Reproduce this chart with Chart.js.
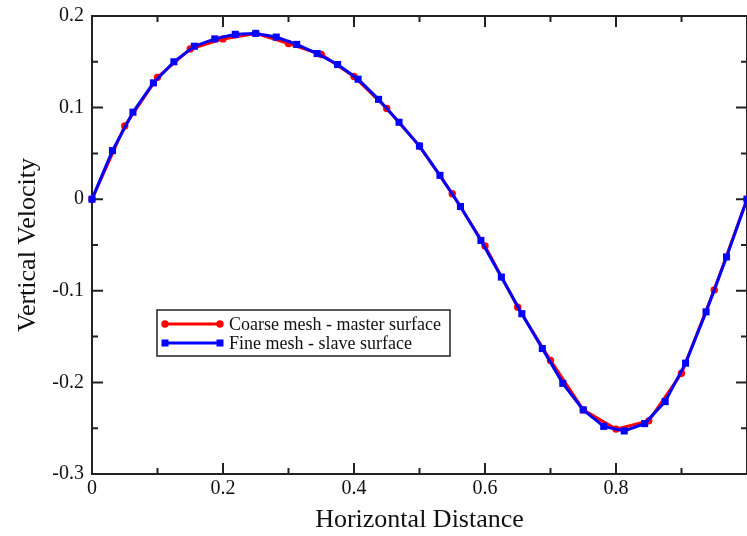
<!DOCTYPE html>
<html>
<head>
<meta charset="utf-8">
<title>Vertical Velocity</title>
<script src="https://cdn.jsdelivr.net/npm/chart.js@4.4.1/dist/chart.umd.min.js"></script>
<style>
  html, body { margin: 0; padding: 0; background: #fff; }
  #wrap { width: 747px; height: 536px; }
</style>
</head>
<body>
<div id="wrap"><canvas id="velocityChart"></canvas></div>
<script>
// ---- Data ----
const coarseX = [0, 0.05, 0.1, 0.15, 0.2, 0.25, 0.3, 0.35, 0.4, 0.45, 0.5,
  0.55, 0.6, 0.65, 0.7, 0.75, 0.8, 0.85, 0.9, 0.95, 1];
const coarseV = [0, 0.080, 0.133, 0.164, 0.175, 0.181, 0.170, 0.158, 0.134, 0.099, 0.058,
  0.006, -0.051, -0.118, -0.176, -0.230, -0.251, -0.242, -0.190, -0.099, 0];

const fineX = [0, 0.03125, 0.0625, 0.09375, 0.125, 0.15625, 0.1875, 0.21875, 0.25,
  0.28125, 0.3125, 0.34375, 0.375, 0.40625, 0.4375, 0.46875, 0.5,
  0.53125, 0.5625, 0.59375, 0.625, 0.65625, 0.6875, 0.71875, 0.75,
  0.78125, 0.8125, 0.84375, 0.875, 0.90625, 0.9375, 0.96875, 1];
const fineV = [0, 0.053, 0.095, 0.127, 0.150, 0.167, 0.175, 0.180, 0.181,
  0.177, 0.169, 0.159, 0.147, 0.131, 0.109, 0.084, 0.058,
  0.026, -0.008, -0.045, -0.085, -0.125, -0.163, -0.201, -0.230,
  -0.248, -0.253, -0.245, -0.221, -0.179, -0.123, -0.063, 0];

const xTickLabels = [0, 0.2, 0.4, 0.6, 0.8];
const yTickLabels = [-0.3, -0.2, -0.1, 0, 0.1, 0.2];

const seriesNames = ['Coarse mesh - master surface', 'Fine mesh - slave surface'];

const SERIF = '"Liberation Serif", "Times New Roman", serif';
const FRAME = '#222';

function toPoints(xs, ys) {
  return xs.map((x, i) => ({ x: x, y: ys[i] }));
}

// frame box with inward ticks on all four sides (like xmgrace)
const frameTicks = {
  id: 'frameTicks',
  beforeDatasetsDraw(chart) {
    const { ctx, chartArea: a, scales: { x, y } } = chart;
    ctx.save();
    ctx.strokeStyle = FRAME;
    ctx.lineWidth = 2;
    ctx.strokeRect(a.left, a.top, a.right - a.left, a.bottom - a.top);
    ctx.beginPath();
    for (let i = 0; i <= 10; i++) {
      const px = x.getPixelForValue(i / 10);
      const len = i % 2 === 0 ? 11 : 6;
      ctx.moveTo(px, a.bottom); ctx.lineTo(px, a.bottom - len);
      ctx.moveTo(px, a.top); ctx.lineTo(px, a.top + len);
    }
    for (let i = 0; i <= 10; i++) {
      const py = y.getPixelForValue(-0.3 + i * 0.05);
      const len = i % 2 === 0 ? 11 : 6;
      ctx.moveTo(a.left, py); ctx.lineTo(a.left + len, py);
      ctx.moveTo(a.right, py); ctx.lineTo(a.right - len, py);
    }
    ctx.stroke();
    ctx.restore();
  }
};

// boxed legend with line + end markers
const boxLegend = {
  id: 'boxLegend',
  afterDraw(chart) {
    const ctx = chart.ctx;
    const bx = 157, by = 310, bw = 293, bh = 46;
    ctx.save();
    ctx.fillStyle = '#fff';
    ctx.fillRect(bx, by, bw, bh);
    ctx.strokeStyle = FRAME;
    ctx.lineWidth = 1.5;
    ctx.strokeRect(bx, by, bw, bh);

    chart.data.datasets.forEach((ds, i) => {
      const ly = by + 14 + i * 19;
      const x0 = bx + 8, x1 = bx + 63;
      ctx.strokeStyle = ds.borderColor;
      ctx.lineWidth = 3;
      ctx.beginPath();
      ctx.moveTo(x0, ly); ctx.lineTo(x1, ly);
      ctx.stroke();
      ctx.fillStyle = ds.borderColor;
      [x0, x1].forEach(px => {
        if (ds.pointStyle === 'rect') {
          ctx.fillRect(px - 3.5, ly - 3.5, 7, 7);
        } else {
          ctx.beginPath();
          ctx.arc(px, ly, 3.7, 0, Math.PI * 2);
          ctx.fill();
        }
      });
      ctx.fillStyle = '#111';
      ctx.font = '18px ' + SERIF;
      ctx.textBaseline = 'middle';
      ctx.textAlign = 'left';
      ctx.fillText(ds.label, bx + 72, ly + 1);
    });
    ctx.restore();
  }
};

const ctx = document.getElementById('velocityChart');

new Chart(ctx, {
  type: 'line',
  data: {
    datasets: [
      {
        label: seriesNames[0],
        data: toPoints(coarseX, coarseV),
        borderColor: '#ff0000',
        backgroundColor: '#ff0000',
        borderWidth: 3,
        pointStyle: 'circle',
        pointRadius: 3.7,
        pointBorderWidth: 0,
        tension: 0,
        clip: 8,
        order: 1
      },
      {
        label: seriesNames[1],
        data: toPoints(fineX, fineV),
        borderColor: '#0000ff',
        backgroundColor: '#0000ff',
        borderWidth: 3,
        pointStyle: 'rect',
        pointRadius: 5,
        pointBorderWidth: 0,
        tension: 0,
        clip: 8,
        order: 0
      }
    ]
  },
  options: {
    responsive: true,
    maintainAspectRatio: false,
    animation: false,
    events: [],
    layout: { autoPadding: false, padding: { top: 16, right: 0, left: 0, bottom: 0 } },
    plugins: {
      legend: { display: false },
      tooltip: { enabled: false }
    },
    scales: {
      x: {
        type: 'linear',
        min: 0,
        max: 1,
        afterBuildTicks: scale => { scale.ticks = xTickLabels.map(v => ({ value: v })); },
        afterFit: scale => {
          scale.height = 62;
          scale.paddingLeft = 0;
          scale.paddingRight = 0;
        },
        grid: { display: false, drawTicks: false },
        border: { display: false },
        ticks: {
          padding: 3,
          color: '#111',
          font: { family: SERIF, size: 20 },
          maxRotation: 0,
          callback: v => String(v)
        },
        title: {
          display: true,
          text: 'Horizontal Distance',
          color: '#111',
          font: { family: SERIF, size: 26, lineHeight: 1 },
          padding: { top: 0, bottom: 3 }
        }
      },
      y: {
        type: 'linear',
        min: -0.3,
        max: 0.2,
        afterBuildTicks: scale => { scale.ticks = yTickLabels.map(v => ({ value: v })); },
        afterFit: scale => {
          scale.width = 92;
          scale.paddingTop = 0;
          scale.paddingBottom = 0;
        },
        grid: { display: false, drawTicks: false },
        border: { display: false },
        ticks: {
          padding: 8,
          color: '#111',
          font: { family: SERIF, size: 20 },
          callback: v => String(v)
        },
        title: {
          display: true,
          text: 'Vertical Velocity',
          color: '#111',
          font: { family: SERIF, size: 26, lineHeight: 1 },
          padding: { top: 15, bottom: 0 }
        }
      }
    }
  },
  plugins: [frameTicks, boxLegend]
});
</script>
</body>
</html>
